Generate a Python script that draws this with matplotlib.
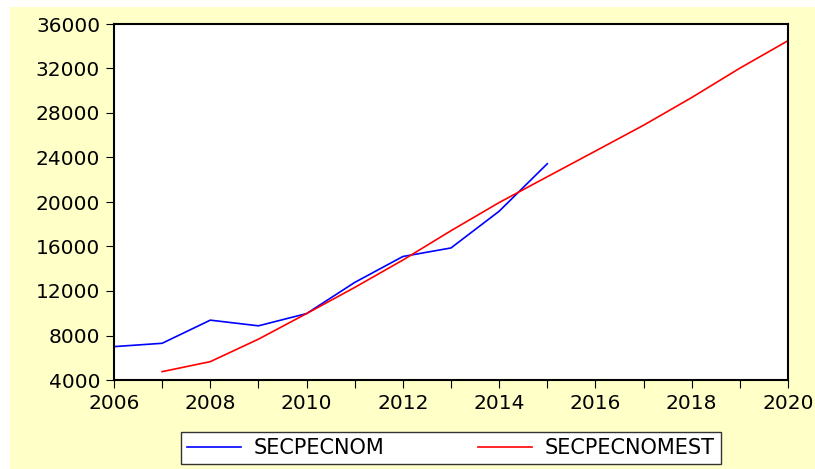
import matplotlib
matplotlib.use("Agg")
import matplotlib.pyplot as plt
from matplotlib.patches import Rectangle
from matplotlib.ticker import MultipleLocator

# observed series (annual)
years_obs = [2006, 2007, 2008, 2009, 2010, 2011, 2012, 2013, 2014, 2015]
secpecnom = [7000, 7300, 9380, 8870, 9970, 12770, 15100, 15870, 19170, 23440]

# estimated / projected series
years_est = [2007, 2008, 2009, 2010, 2011, 2012, 2013, 2014, 2015, 2016, 2017, 2018, 2019, 2020]
secpecnomest = [4750, 5650, 7670, 9970, 12320, 14780, 17420, 19950, 22270, 24580, 26900, 29390, 32030, 34500]

plt.rcParams['font.family'] = ['DejaVu Sans']

fig = plt.figure(figsize=(8.15, 4.69), dpi=100)
fig.patch.set_facecolor("white")
# pale yellow backdrop (white strip at top and left like the original export)
fig.patches.append(Rectangle((10 / 815, 0), 1, (469 - 7) / 469, transform=fig.transFigure,
                             facecolor="#ffffc8", edgecolor="none", zorder=-10))

ax = fig.add_axes([114 / 815, 89 / 469, 674 / 815, 356 / 469])
ax.set_zorder(5)
ax.set_facecolor("white")

ax.plot(years_obs, secpecnom, color="#0000ff", lw=1.2, label="SECPECNOM")
ax.plot(years_est, secpecnomest, color="#ff0000", lw=1.2, label="SECPECNOMEST")

ax.set_xlim(2006, 2020)
ax.set_ylim(4000, 36000)
ax.xaxis.set_major_locator(MultipleLocator(2))
ax.xaxis.set_minor_locator(MultipleLocator(1))
ax.yaxis.set_major_locator(MultipleLocator(4000))

ax.tick_params(axis="both", which="both", direction="out", length=6, width=0.8, colors="black")
ax.tick_params(axis="both", which="major", labelsize=14.5)
ax.tick_params(axis="y", pad=4)
ax.tick_params(axis="x", pad=4)

for s in ax.spines.values():
    s.set_linewidth(1.5)
    s.set_color("black")

leg = ax.legend(loc="center", bbox_to_anchor=(451 / 815, 21 / 469), bbox_transform=fig.transFigure,
                ncol=2, fontsize=15, frameon=True, fancybox=False, handlelength=2.6,
                columnspacing=4.5, borderpad=0.3, handletextpad=0.6)
leg.get_frame().set_edgecolor("#333333")
leg.get_frame().set_linewidth(1.0)
leg.get_frame().set_facecolor("white")
leg.get_frame().set_alpha(1.0)

fig.savefig("out.png", dpi=100, facecolor=fig.get_facecolor())
